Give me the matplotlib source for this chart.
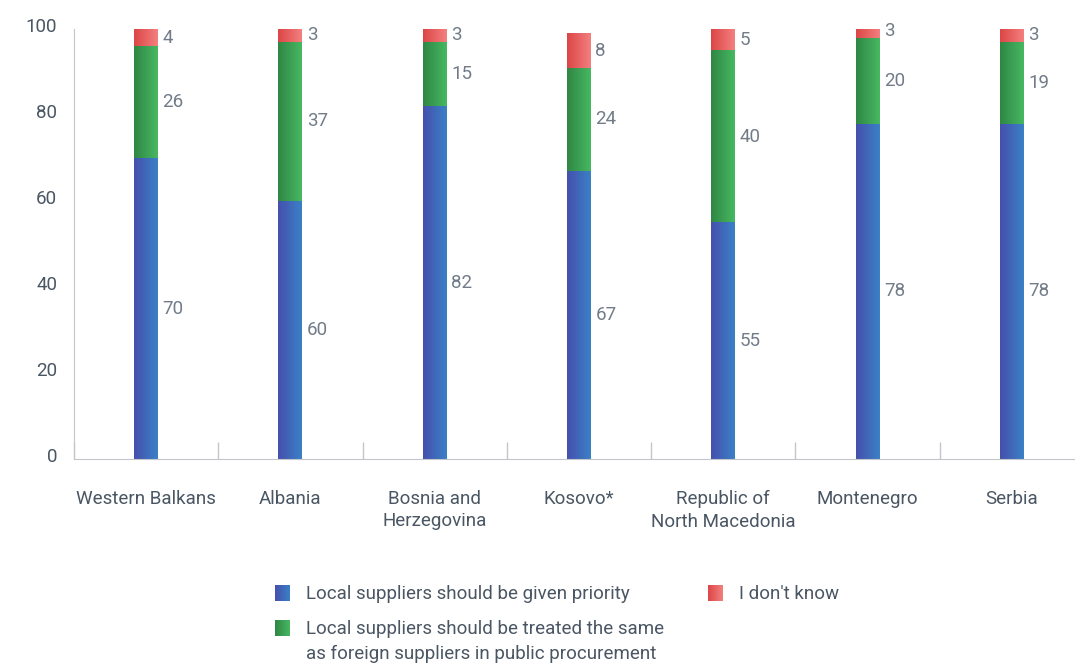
import numpy as np
import matplotlib.pyplot as plt
from matplotlib.colors import LinearSegmentedColormap
from matplotlib.transforms import ScaledTranslation

plt.rcParams['font.family'] = ['Roboto', 'DejaVu Sans']

categories = ['Western Balkans', 'Albania', 'Bosnia and\nHerzegovina', 'Kosovo*',
              'Republic of\nNorth Macedonia', 'Montenegro', 'Serbia']
priority = [70, 60, 82, 67, 55, 78, 78]
same = [26, 37, 15, 24, 40, 20, 19]
dont_know = [4, 3, 3, 8, 5, 3, 3]
series_names = ['Local suppliers should be given priority',
                'Local suppliers should be treated the same\nas foreign suppliers in public procurement',
                "I don't know"]
yticks = [0, 20, 40, 60, 80, 100]

grads = [('#4650ad', '#3a80c6'), ('#2f8745', '#47b862'), ('#dc4646', '#f47f7f')]
tick_col = '#4a5663'
val_col = '#717c88'
line_col = '#c3c7cc'
fs = 13.5

fig = plt.figure(figsize=(10.75, 6.63), dpi=100)
ax = fig.add_axes([74 / 1075, 204 / 663, 1010 / 1075, 430 / 663])

w = 0.166
grad = np.linspace(0, 1, 64).reshape(1, -1)
cmaps = [LinearSegmentedColormap.from_list('g%d' % i, c) for i, c in enumerate(grads)]

for i in range(len(categories)):
    bottom = 0
    for k, vals in enumerate([priority, same, dont_know]):
        v = vals[i]
        ax.imshow(grad, cmap=cmaps[k], aspect='auto', interpolation='bilinear',
                  extent=(i - w / 2, i + w / 2, bottom, bottom + v), zorder=2)
        ax.text(i + w / 2 + 0.03, bottom + v / 2, str(v), ha='left', va='center',
                fontsize=fs, color=val_col)
        bottom += v

ax.set_xlim(-0.5, 6.5)
ax.set_ylim(0, 100)

for s in ['top', 'right']:
    ax.spines[s].set_visible(False)
ax.spines['left'].set_color(line_col)
ax.spines['bottom'].set_color(line_col)

ax.set_yticks(yticks)
ax.set_yticklabels([str(t) for t in yticks])
ax.tick_params(axis='y', length=0, pad=12, labelsize=fs, labelcolor=tick_col)
off = ScaledTranslation(0, 4 / 100, fig.dpi_scale_trans)
for lab in ax.get_yticklabels():
    lab.set_transform(lab.get_transform() + off)

ax.set_xticks(np.arange(len(categories)))
ax.set_xticklabels(categories, linespacing=1.35)
ax.tick_params(axis='x', length=0, pad=22, labelsize=fs, labelcolor=tick_col)
ax.set_xticks(np.arange(-0.5, 6.5, 1), minor=True)
ax.tick_params(axis='x', which='minor', direction='in', length=12, color=line_col, width=1)

# legend
lx = [275 / 1075, 275 / 1075, 708 / 1075]
ly = [593, 628, 593]
for k in range(3):
    sq = fig.add_axes([lx[k], 1 - (ly[k] + 8) / 663, 15 / 1075, 16 / 663])
    sq.imshow(grad, cmap=cmaps[k], aspect='auto', interpolation='bilinear')
    sq.axis('off')
    if k == 1:
        fig.text(lx[k] + 31 / 1075, 1 - (ly[k] - 8) / 663, series_names[k], ha='left',
                 va='top', fontsize=fs, color=tick_col, linespacing=1.5)
    else:
        fig.text(lx[k] + 31 / 1075, 1 - (ly[k] + 1) / 663, series_names[k], ha='left',
                 va='center', fontsize=fs, color=tick_col)

fig.savefig('out.png', dpi=100, facecolor='white')
